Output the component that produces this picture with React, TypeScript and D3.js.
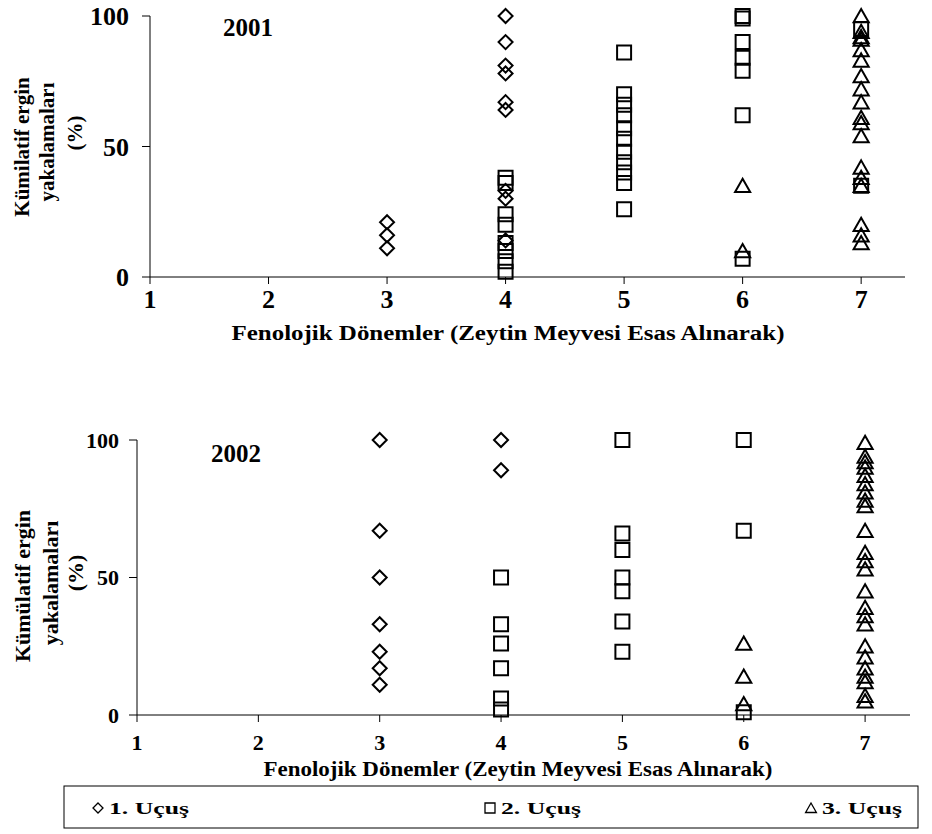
import React, { useEffect, useRef } from 'react'
import * as d3 from 'd3'

// phenological periods on the x axis
const periods = [1, 2, 3, 4, 5, 6, 7]
const yTicks = [0, 50, 100]

// 2001 - cumulative adult catches (%), [period, value]
const ucus1_2001: [number, number][] = [
  [3, 21], [3, 16], [3, 11],
  [4, 100], [4, 90], [4, 81], [4, 78], [4, 67], [4, 64], [4, 33], [4, 30], [4, 14]
]
const ucus2_2001: [number, number][] = [
  [4, 38], [4, 36], [4, 24], [4, 20], [4, 13], [4, 10], [4, 6], [4, 2],
  [5, 86], [5, 70], [5, 66], [5, 62], [5, 57], [5, 53], [5, 48], [5, 44], [5, 40], [5, 36], [5, 26],
  [6, 100], [6, 99], [6, 90], [6, 84], [6, 79], [6, 62], [6, 7],
  [7, 95], [7, 35]
]
const ucus3_2001: [number, number][] = [
  [6, 35], [6, 10],
  [7, 100], [7, 94], [7, 92], [7, 91], [7, 87], [7, 83], [7, 77], [7, 72], [7, 67],
  [7, 61], [7, 59], [7, 54], [7, 42], [7, 38], [7, 35], [7, 20], [7, 16], [7, 13]
]

// 2002
const ucus1_2002: [number, number][] = [
  [3, 100], [3, 67], [3, 50], [3, 33], [3, 23], [3, 17], [3, 11],
  [4, 100], [4, 89]
]
const ucus2_2002: [number, number][] = [
  [4, 50], [4, 33], [4, 26], [4, 17], [4, 6], [4, 2],
  [5, 100], [5, 66], [5, 60], [5, 50], [5, 45], [5, 34], [5, 23],
  [6, 100], [6, 67], [6, 1]
]
const ucus3_2002: [number, number][] = [
  [6, 26], [6, 14], [6, 4],
  [7, 99], [7, 94], [7, 92], [7, 90], [7, 87], [7, 84], [7, 81], [7, 78], [7, 76],
  [7, 67], [7, 59], [7, 56], [7, 53], [7, 45], [7, 39], [7, 36], [7, 33],
  [7, 25], [7, 21], [7, 17], [7, 14], [7, 12], [7, 7], [7, 5]
]

const legendLabels = ['1. Uçuş', '2. Uçuş', '3. Uçuş']
const xTitle = 'Fenolojik Dönemler (Zeytin Meyvesi Esas Alınarak)'

const FONT = 'Liberation Serif'

// marker paths centred on 0,0
const diamond = (r: number) => `M0,${-r}L${r},0L0,${r}L${-r},0Z`
const square = (r: number) => `M${-r},${-r}H${r}V${r}H${-r}Z`
const triangle = (r: number) => `M0,${-r}L${r * 1.08},${r * 0.9}L${-r * 1.08},${r * 0.9}Z`
const shapes = [diamond, square, triangle]

// helper: bold serif text
const txt = (sel: any, size: number) =>
  sel.attr('font-family', FONT).attr('font-weight', 'bold').attr('font-size', size).attr('fill', '#000')

const App = () => {
  const svgRef = useRef<SVGSVGElement>(null)

  useEffect(() => {
    document.body.style.margin = '0'
    const svg = d3.select(svgRef.current)
    svg.selectAll('*').remove()

    const panels = [
      {
        year: '2001',
        series: [ucus1_2001, ucus2_2001, ucus3_2001],
        left: 150, right: 905, top: 16, bottom: 277,
        tickSize: 26, tickLabelRight: 129, xLabelY: 308,
        titleX: 248, titleY: 27, titleSize: 25,
        xTitleY: 340, xTitleLen: 553, xTitleSize: 20, xTitleX: 508,
        yTitle: ['Kümilatif ergin', 'yakalamaları', '(%)'],
        yTitleX: [22, 47, 75], yTitleY: [147, 142, 133], yTitleSize: 21
      },
      {
        year: '2002',
        series: [ucus1_2002, ucus2_2002, ucus3_2002],
        left: 137, right: 910, top: 440, bottom: 715,
        tickSize: 22, tickLabelRight: 119, xLabelY: 750,
        titleX: 236, titleY: 453, titleSize: 25,
        xTitleY: 776, xTitleLen: 509, xTitleSize: 21, xTitleX: 518,
        yTitle: ['Kümülatif ergin', 'yakalamaları', '(%)'],
        yTitleX: [22, 50, 75], yTitleY: [586, 583, 573], yTitleSize: 22
      }
    ]

    panels.forEach((p) => {
      const x = d3.scaleLinear().domain([1, 7.37]).range([p.left, p.right])
      const y = d3.scaleLinear().domain([0, 100]).range([p.bottom, p.top])
      const g = svg.append('g')

      // axes
      g.append('line')
        .attr('x1', p.left).attr('x2', p.left)
        .attr('y1', y(100)).attr('y2', y(0))
        .attr('stroke', '#000').attr('stroke-width', 1)
      g.append('line')
        .attr('x1', p.left).attr('x2', p.right)
        .attr('y1', y(0)).attr('y2', y(0))
        .attr('stroke', '#000').attr('stroke-width', 1)

      g.selectAll('.ytick')
        .data(yTicks)
        .enter()
        .append('line')
        .attr('x1', p.left - 8).attr('x2', p.left)
        .attr('y1', (d) => y(d)).attr('y2', (d) => y(d))
        .attr('stroke', '#000')

      txt(
        g.selectAll('.ylab')
          .data(yTicks)
          .enter()
          .append('text')
          .attr('x', p.tickLabelRight)
          .attr('y', (d) => y(d))
          .attr('dy', '0.35em')
          .attr('text-anchor', 'end'),
        p.tickSize
      ).text((d: number) => d)

      g.selectAll('.xtick')
        .data(periods)
        .enter()
        .append('line')
        .attr('x1', (d) => x(d)).attr('x2', (d) => x(d))
        .attr('y1', y(0)).attr('y2', y(0) + 7)
        .attr('stroke', '#000')

      txt(
        g.selectAll('.xlab')
          .data(periods)
          .enter()
          .append('text')
          .attr('x', (d) => x(d))
          .attr('y', p.xLabelY)
          .attr('text-anchor', 'middle'),
        p.tickSize
      ).text((d: number) => d)

      // year label
      txt(
        g.append('text')
          .attr('x', p.titleX).attr('y', p.titleY)
          .attr('dy', '0.35em')
          .attr('text-anchor', 'middle'),
        p.titleSize
      ).text(p.year)

      // x axis title
      txt(
        g.append('text')
          .attr('x', p.xTitleX)
          .attr('y', p.xTitleY)
          .attr('text-anchor', 'middle')
          .attr('textLength', p.xTitleLen)
          .attr('lengthAdjust', 'spacingAndGlyphs'),
        p.xTitleSize
      ).text(xTitle)

      // y axis title, three rotated lines
      p.yTitle.forEach((line, i) => {
        txt(
          g.append('text')
            .attr('transform', `translate(${p.yTitleX[i]},${p.yTitleY[i]}) rotate(-90)`)
            .attr('dy', '0.35em')
            .attr('text-anchor', 'middle'),
          p.yTitleSize
        ).text(line)
      })

      // markers
      p.series.forEach((data, si) => {
        g.selectAll(`.s${si}`)
          .data(data)
          .enter()
          .append('path')
          .attr('d', shapes[si](7))
          .attr('transform', (d) => `translate(${x(d[0])},${y(d[1])})`)
          .attr('fill', 'none')
          .attr('stroke', '#000')
          .attr('stroke-width', 2)
      })
    })

    // legend box
    const legend = svg.append('g')
    legend.append('rect')
      .attr('x', 64).attr('y', 786)
      .attr('width', 854).attr('height', 42)
      .attr('fill', 'none').attr('stroke', '#000')
    const legendX = [98, 490, 811]
    legendLabels.forEach((label, i) => {
      legend.append('path')
        .attr('d', shapes[i](5))
        .attr('transform', `translate(${legendX[i]},808)`)
        .attr('fill', 'none')
        .attr('stroke', '#000')
        .attr('stroke-width', 1.3)
      txt(
        legend.append('text')
          .attr('x', legendX[i] + 11)
          .attr('y', 808)
          .attr('dy', '0.35em')
          .attr('textLength', 80)
          .attr('lengthAdjust', 'spacingAndGlyphs'),
        17
      ).text(label)
    })
  }, [])

  return (
    <div style={{ width: 932, height: 834, background: '#fff' }}>
      <svg ref={svgRef} width={932} height={834} style={{ display: 'block' }}></svg>
    </div>
  )
}

export default App
